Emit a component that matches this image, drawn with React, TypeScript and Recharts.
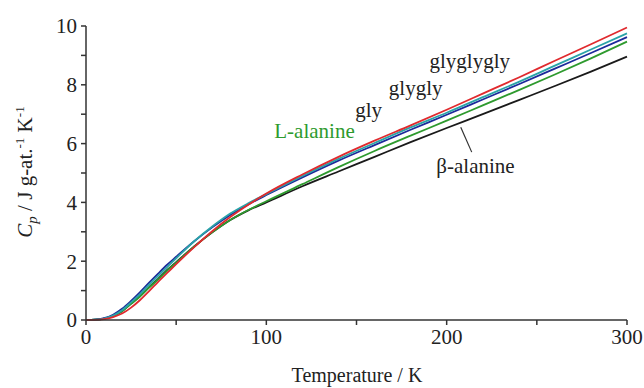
import React from 'react';
import { LineChart, Line, XAxis, YAxis, ReferenceDot, ReferenceLine } from 'recharts';

const temps = [0, 5, 10, 15, 20, 25, 30, 35, 40, 45, 50, 60, 70, 80, 90, 100, 120, 140, 160, 180, 200, 220, 240, 260, 280, 300];
const gly =       [0, 0.01, 0.06, 0.18, 0.38, 0.65, 0.95, 1.27, 1.58, 1.88, 2.15, 2.68, 3.15, 3.57, 3.93, 4.25, 4.85, 5.42, 5.95, 6.47, 6.98, 7.50, 8.02, 8.55, 9.08, 9.62];
const glygly =    [0, 0.01, 0.05, 0.15, 0.33, 0.6, 0.88, 1.2, 1.5, 1.8, 2.1, 2.68, 3.18, 3.62, 3.97, 4.28, 4.9, 5.48, 6.02, 6.55, 7.05, 7.58, 8.1, 8.65, 9.2, 9.75];
const glyglygly = [0, 0.005, 0.03, 0.1, 0.22, 0.42, 0.68, 0.98, 1.3, 1.6, 1.9, 2.48, 3.02, 3.5, 3.92, 4.3, 4.95, 5.55, 6.1, 6.62, 7.15, 7.7, 8.25, 8.82, 9.38, 9.95];
const lAlanine =  [0, 0.01, 0.05, 0.14, 0.3, 0.55, 0.8, 1.1, 1.38, 1.68, 1.95, 2.5, 2.98, 3.4, 3.74, 4.04, 4.62, 5.2, 5.75, 6.27, 6.78, 7.3, 7.82, 8.35, 8.9, 9.47];
const bAlanine =  [0, 0.01, 0.05, 0.14, 0.3, 0.56, 0.82, 1.12, 1.4, 1.7, 1.97, 2.5, 2.98, 3.4, 3.73, 4.0, 4.55, 5.05, 5.55, 6.05, 6.53, 7.0, 7.48, 7.96, 8.45, 8.96];

const xTicks = [0, 50, 100, 150, 200, 250, 300];
const yTicks = [0, 1, 2, 3, 4, 5, 6, 7, 8, 9, 10];
const xLabeled = [0, 100, 200, 300];
const yLabeled = [0, 2, 4, 6, 8, 10];

const data = temps.map((t, i) => ({
  t,
  gly: gly[i],
  glygly: glygly[i],
  glyglygly: glyglygly[i],
  lAlanine: lAlanine[i],
  bAlanine: bAlanine[i],
}));

const FONT = '"Liberation Serif", "DejaVu Serif", serif';
const AXIS = '#333';

const textShape = (label: string, color: string) => (p: any) => (
  <text x={p.cx} y={p.cy} textAnchor="middle" style={{ fontFamily: FONT, fontSize: 21, fill: color }}>
    {label}
  </text>
);

export default function App() {
  return (
    <div style={{ position: 'absolute', left: 0, top: 0, width: 644, height: 388, background: '#fff' }}>
      <LineChart width={644} height={388} data={data} margin={{ top: 26, right: 17, bottom: 38, left: 26 }}>
        <XAxis
          dataKey="t"
          type="number"
          domain={[0, 300]}
          ticks={xTicks}
          tickFormatter={(v: number) => (xLabeled.includes(v) ? String(v) : '')}
          stroke={AXIS}
          strokeWidth={1.5}
          tickSize={5}
          tickMargin={4}
          height={30}
          tick={{ fontFamily: FONT, fontSize: 21, fill: '#222' }}
          label={{
            content: () => (
              <text x={357} y={382} textAnchor="middle" style={{ fontFamily: FONT, fontSize: 20, fill: '#222' }}>
                Temperature / K
              </text>
            ),
          }}
        />
        <YAxis
          type="number"
          domain={[0, 10]}
          ticks={yTicks}
          tickFormatter={(v: number) => (yLabeled.includes(v) ? String(v) : '')}
          stroke={AXIS}
          strokeWidth={1.5}
          tickSize={5}
          tickMargin={4}
          width={60}
          tick={{ fontFamily: FONT, fontSize: 21, fill: '#222' }}
          label={{
            content: () => (
              <text
                x={32}
                y={172}
                textAnchor="middle"
                style={{ fontFamily: FONT, fontSize: 21, fill: '#222' }}
                transform="rotate(-90 32 172)"
              >
                <tspan fontStyle="italic">C</tspan>
                <tspan fontStyle="italic" fontSize={15} dy={5}>p</tspan>
                <tspan dy={-5}> / J g-at.</tspan>
                <tspan fontSize={13} dy={-8}>-1</tspan>
                <tspan dy={8}> K</tspan>
                <tspan fontSize={13} dy={-8}>-1</tspan>
              </text>
            ),
          }}
        />
        <Line type="monotone" dataKey="bAlanine" stroke="#1a1a1a" strokeWidth={1.8} dot={false} isAnimationActive={false} />
        <Line type="monotone" dataKey="lAlanine" stroke="#2e9a2e" strokeWidth={1.8} dot={false} isAnimationActive={false} />
        <Line type="monotone" dataKey="gly" stroke="#1c2a9a" strokeWidth={1.8} dot={false} isAnimationActive={false} />
        <Line type="monotone" dataKey="glygly" stroke="#2aa3a8" strokeWidth={1.8} dot={false} isAnimationActive={false} />
        <Line type="monotone" dataKey="glyglygly" stroke="#e02a2e" strokeWidth={1.8} dot={false} isAnimationActive={false} />
        <ReferenceLine segment={[{ x: 207.8, y: 6.56 }, { x: 213.9, y: 5.71 }]} stroke="#333" strokeWidth={1.2} />
        <ReferenceDot x={212.8} y={8.57} r={0} shape={textShape('glyglygly', '#222')} />
        <ReferenceDot x={182.8} y={7.65} r={0} shape={textShape('glygly', '#222')} />
        <ReferenceDot x={156.7} y={6.9} r={0} shape={textShape('gly', '#222')} />
        <ReferenceDot x={126.7} y={6.19} r={0} shape={textShape('L-alanine', '#2e9a2e')} />
        <ReferenceDot x={216} y={5.0} r={0} shape={textShape('β-alanine', '#222')} />
      </LineChart>
    </div>
  );
}
